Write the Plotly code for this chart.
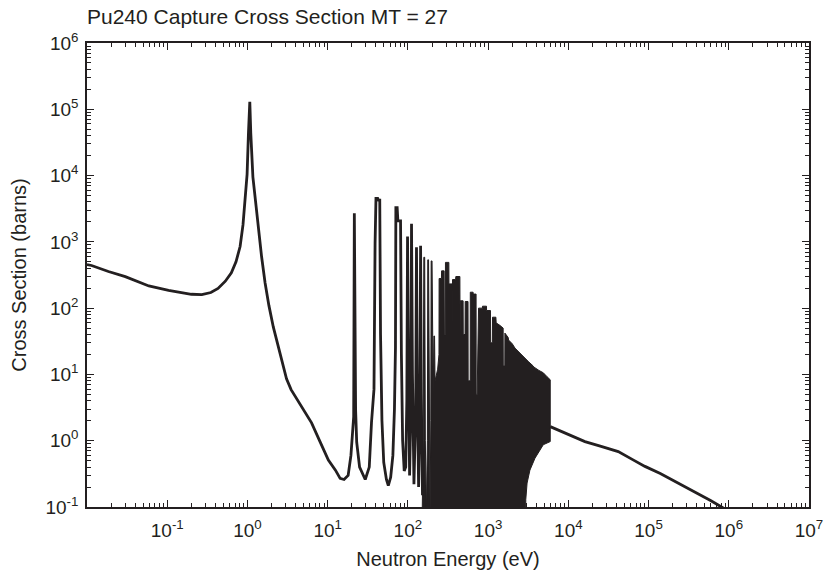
import plotly.graph_objects as go

# ---------------- data ----------------
# smooth low-energy part incl. the 1.06 eV resonance
LOW_E = [0.010, 0.0114, 0.0185, 0.030, 0.059, 0.104, 0.20, 0.27, 0.35, 0.43, 0.53, 0.63,
         0.72, 0.81, 0.88, 0.936, 0.99, 1.03, 1.07, 1.10, 1.17, 1.28, 1.37, 1.50, 1.66,
         1.85, 2.10, 2.50, 2.80, 3.07, 3.50, 4.3, 5.2, 6.3, 8.0, 10.2, 12.5, 14.3, 16.0,
         18.0, 19.5]
LOW_XS = [455, 440, 357, 299, 216, 186, 162, 160, 172, 198, 255, 340,
          500, 850, 1800, 4800, 10400, 44000, 130000, 44000, 9500, 3500, 1500, 600, 240,
          110, 52, 22, 13, 8.6, 5.9, 3.9, 2.7, 1.86, 0.98, 0.51, 0.36, 0.27, 0.26,
          0.30, 0.60]

# resolved resonances (line part, up to ~150 eV)
RES_E = [20.5, 21.1, 21.5, 21.9, 22.3, 23.0, 25.0, 29.4, 33.0, 35.2, 37.8, 39.0, 40.0,
         42.0, 43.0, 44.6, 45.6, 47.5, 50.0, 54.0, 57.0, 61.0, 65.0, 68.0, 70.0,
         70.8, 73.5, 75.0, 81.0, 83.0, 86.0, 90.0, 94.0, 97.0, 99.0, 102.0, 105.0,
         109.0, 111.0, 114.0, 119.0, 125.0, 128.0, 131.0, 136.0, 141.0, 144.0, 147.0, 152.0]
RES_XS = [1.8, 2.3, 2700, 47, 2.9, 0.95, 0.40, 0.26, 0.40, 1.9, 6.0, 950, 4540,
          4540, 4270, 4270, 40, 2.0, 0.47, 0.26, 0.21, 0.28, 0.6, 3.0, 25,
          3280, 3280, 2070, 2070, 20, 1.0, 0.35, 0.40, 4.0, 1200, 10, 0.30,
          3.0, 1870, 10, 0.22, 2.5, 830, 6.0, 0.20, 2.5, 870, 5.0, 0.15]

# dense resonance region (filled outline: upper profile then lower boundary)
DENSE_E = [150, 155, 158, 162, 165, 170, 175, 177, 181, 184, 189, 193, 195, 200, 203, 207,
           211, 215, 218, 235, 244, 245, 262, 263, 283, 285, 293, 294, 324, 325, 355, 358,
           360, 393, 396, 445, 447, 449, 488, 490, 516, 518, 562, 564, 598, 600, 650, 652,
           708, 710, 730, 760, 850, 851, 955, 956, 1070, 1075, 1130, 1135, 1250, 1260, 1400,
           1540, 1545, 1615, 1620, 1780, 1800, 2000, 2160, 2400, 2740, 2760, 3200, 3650,
           3700, 4300, 4870, 5400, 5950,
           5950, 4870, 3840, 3320, 3060, 2950, 2920, 150]
DENSE_XS = [0.05, 1.0, 585, 585, 1.0, 0.08, 1.0, 535, 535, 2.0, 0.08, 2.0, 515, 515, 5.0, 5.0,
            38, 38, 8.0, 12, 20, 280, 280, 365, 365, 40, 40, 490, 490, 232, 232, 40,
            270, 270, 300, 300, 40, 129, 129, 40, 40, 126, 126, 8, 8, 174, 174, 163,
            163, 5, 5, 100, 100, 107, 107, 92, 92, 30, 30, 73, 73, 60, 55,
            50, 13.4, 13.4, 42, 36, 33, 29, 25, 22, 18.6, 18, 15.5, 13.4,
            13, 11.5, 10.6, 9.3, 8.3,
            0.97, 0.87, 0.545, 0.36, 0.23, 0.13, 0.05, 0.05]

# smooth high-energy tail
TAIL_E = [5950, 7500, 10000, 16100, 25000, 41900, 65000, 90200, 140000, 194000,
          300000, 417000, 600000, 738000, 900000]
TAIL_XS = [1.63, 1.45, 1.24, 0.97, 0.83, 0.686, 0.51, 0.41, 0.32, 0.26,
           0.197, 0.16, 0.124, 0.107, 0.093]

X_TICKS = [1e-1, 1e0, 1e1, 1e2, 1e3, 1e4, 1e5, 1e6, 1e7]
X_TICKTEXT = ["10<sup>-1</sup>", "10<sup>0</sup>", "10<sup>1</sup>", "10<sup>2</sup>",
              "10<sup>3</sup>", "10<sup>4</sup>", "10<sup>5</sup>", "10<sup>6</sup>",
              "10<sup>7</sup>"]
Y_TICKS = [1e-1, 1e0, 1e1, 1e2, 1e3, 1e4, 1e5, 1e6]
Y_TICKTEXT = ["10<sup>-1</sup>", "10<sup>0</sup>", "10<sup>1</sup>", "10<sup>2</sup>",
              "10<sup>3</sup>", "10<sup>4</sup>", "10<sup>5</sup>", "10<sup>6</sup>"]

TITLE = "Pu240 Capture Cross Section MT = 27"
X_TITLE = "Neutron Energy (eV)"
Y_TITLE = "Cross Section (barns)"

# ---------------- figure ----------------
INK = "#231f20"
FONT = "Liberation Sans, Arial, Helvetica, sans-serif"

x_minor = [m * 10.0 ** d for d in range(-2, 7) for m in range(2, 10)]
y_minor = [m * 10.0 ** d for d in range(-1, 6) for m in range(2, 10)]

fig = go.Figure()
fig.add_trace(go.Scatter(
    x=DENSE_E, y=DENSE_XS, mode="lines", fill="toself", fillcolor=INK,
    line=dict(color=INK, width=1), hoverinfo="skip"))
fig.add_trace(go.Scatter(
    x=LOW_E + RES_E, y=LOW_XS + RES_XS, mode="lines",
    line=dict(color=INK, width=2.8)))
fig.add_trace(go.Scatter(
    x=TAIL_E, y=TAIL_XS, mode="lines", line=dict(color=INK, width=2.8)))

axis_common = dict(
    type="log", showgrid=False, zeroline=False, showline=True, linecolor=INK,
    linewidth=1.5, mirror="ticks", ticks="inside", ticklen=7, tickwidth=1.2,
    tickcolor=INK, tickmode="array",
    tickfont=dict(family=FONT, size=19, color=INK),
)

fig.update_layout(
    width=827, height=573,
    margin=dict(l=87, r=18, t=43, b=66),
    paper_bgcolor="white", plot_bgcolor="white",
    showlegend=False,
    font=dict(family=FONT, color=INK),
    title=dict(text=TITLE, font=dict(family=FONT, size=21, color=INK),
               xref="paper", x=0, xanchor="left",
               yref="container", y=1 - 17 / 573, yanchor="middle"),
    xaxis=dict(axis_common, range=[-2, 7], tickvals=X_TICKS, ticktext=X_TICKTEXT,
               ticklabelstandoff=5,
               minor=dict(tickmode="array", tickvals=x_minor, ticks="inside",
                          ticklen=4, tickwidth=1.2, tickcolor=INK, showgrid=False),
               title=dict(text=X_TITLE, font=dict(family=FONT, size=20, color=INK),
                          standoff=12),
               automargin=False),
    yaxis=dict(axis_common, range=[-1, 6], tickvals=Y_TICKS, ticktext=Y_TICKTEXT,
               ticklabelstandoff=3,
               minor=dict(tickmode="array", tickvals=y_minor, ticks="inside",
                          ticklen=4, tickwidth=1.2, tickcolor=INK, showgrid=False),
               title=dict(text=Y_TITLE, font=dict(family=FONT, size=20, color=INK),
                          standoff=13),
               automargin=False),
)

fig.write_html("out.html")
